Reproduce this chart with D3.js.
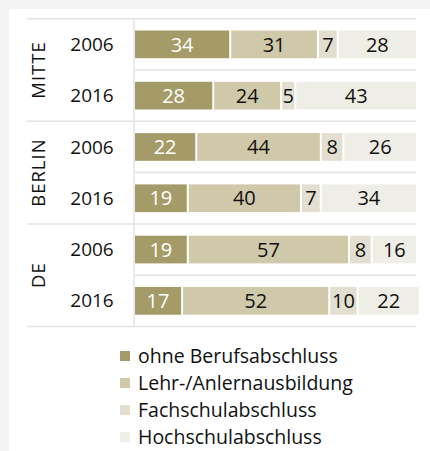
<!doctype html>
<html lang="de">
<head>
  <meta charset="utf-8">
  <title>Berufsabschluss</title>
  <style>
    body { margin: 0; background: #f2f3f2; }
    svg { display: block; }
    text { font-family: "Open Sans", sans-serif; fill: #111; }
  </style>
</head>
<body>
<script src="https://d3js.org/d3.v7.min.js" charset="utf-8"></script>
<script>
(function() {

var groups = ["MITTE", "BERLIN", "DE"];
var years = ["2006", "2016"];
var series = ["ohne Berufsabschluss", "Lehr-/Anlernausbildung", "Fachschulabschluss", "Hochschulabschluss"];
var colors = ["#a59b69", "#cfc8a9", "#e2dfd0", "#efeee6"];
var labelColors = ["#fff", "#111", "#111", "#111"];

// one row per group/year, values in the order of series
var mitte = [[34, 31, 7, 28], [28, 24, 5, 43]];
var berlin = [[22, 44, 8, 26], [19, 40, 7, 34]];
var de = [[19, 57, 8, 16], [17, 52, 10, 22]];

var rows = [];
[mitte, berlin, de].forEach(function(g, gi) {
  g.forEach(function(vals, yi) {
    rows.push({ group: groups[gi], year: years[yi], key: groups[gi] + yi, values: vals });
  });
});

var width = 430, height = 451;

var svg = d3.select("body").append("svg")
    .attr("width", width)
    .attr("height", height);

// white panel
svg.append("rect")
    .attr("x", 9).attr("y", 9)
    .attr("width", width - 9).attr("height", height - 9)
    .attr("fill", "#fff");

var y = d3.scaleBand()
    .domain(rows.map(function(d) { return d.key; }))
    .range([18.7, 326.5])
    .paddingInner(0.46)
    .paddingOuter(0.23);

var step = y.step();
var x = d3.scaleLinear().domain([0, 100]).range([135, 418]);

// separators
var sep = svg.append("g").attr("stroke", "#e3e3e3").attr("stroke-width", 1.5);
rows.forEach(function(d, i) {
  var top = 18.7 + i * step;
  sep.append("line")
      .attr("x1", (i % 2 === 0) ? 27 : 135).attr("x2", 416)
      .attr("y1", top).attr("y2", top);
});
sep.append("line").attr("x1", 27).attr("x2", 416).attr("y1", 326.5).attr("y2", 326.5);
sep.append("line").attr("x1", 134).attr("x2", 134).attr("y1", 18.7).attr("y2", 327);

// group labels
groups.forEach(function(g, gi) {
  var cy = 18.7 + (gi * 2 + 1) * step;
  svg.append("text")
      .attr("transform", "translate(45," + cy + ") rotate(-90)")
      .attr("text-anchor", "middle")
      .attr("font-size", 18.5)
      .attr("letter-spacing", 1)
      .text(g);
});

// rows
var row = svg.selectAll("g.row").data(rows).enter().append("g")
    .attr("class", "row")
    .attr("transform", function(d) { return "translate(0," + y(d.key) + ")"; });

row.append("text")
    .attr("x", 92)
    .attr("y", y.bandwidth() / 2)
    .attr("dy", "0.35em")
    .attr("text-anchor", "middle")
    .attr("font-size", 19)
    .text(function(d) { return d.year; });

var segs = row.selectAll("g.seg").data(function(d) {
  var acc = 0;
  return d.values.map(function(v, i) {
    var s = { x0: acc, x1: acc + v, v: v, i: i };
    acc += v;
    return s;
  });
}).enter().append("g").attr("class", "seg");

segs.append("rect")
    .attr("x", function(d) { return x(d.x0); })
    .attr("width", function(d) { return x(d.x1) - x(d.x0) - 2; })
    .attr("height", y.bandwidth())
    .attr("fill", function(d) { return colors[d.i]; });

segs.append("text")
    .attr("x", function(d) { return (x(d.x0) + x(d.x1) - 2) / 2; })
    .attr("y", y.bandwidth() / 2)
    .attr("dy", "0.36em")
    .attr("text-anchor", "middle")
    .attr("font-size", 20)
    .style("fill", function(d) { return labelColors[d.i]; })
    .text(function(d) { return d.v; });

// legend
var legend = svg.selectAll("g.legend").data(series).enter().append("g")
    .attr("class", "legend")
    .attr("transform", function(d, i) { return "translate(120," + (356 + i * 27) + ")"; });

legend.append("rect")
    .attr("x", 0).attr("y", -5)
    .attr("width", 10).attr("height", 10)
    .attr("fill", function(d, i) { return colors[i]; });

legend.append("text")
    .attr("x", 18)
    .attr("dy", "0.35em")
    .attr("font-size", 19.5)
    .text(function(d) { return d; });

})();
</script>
</body>
</html>
